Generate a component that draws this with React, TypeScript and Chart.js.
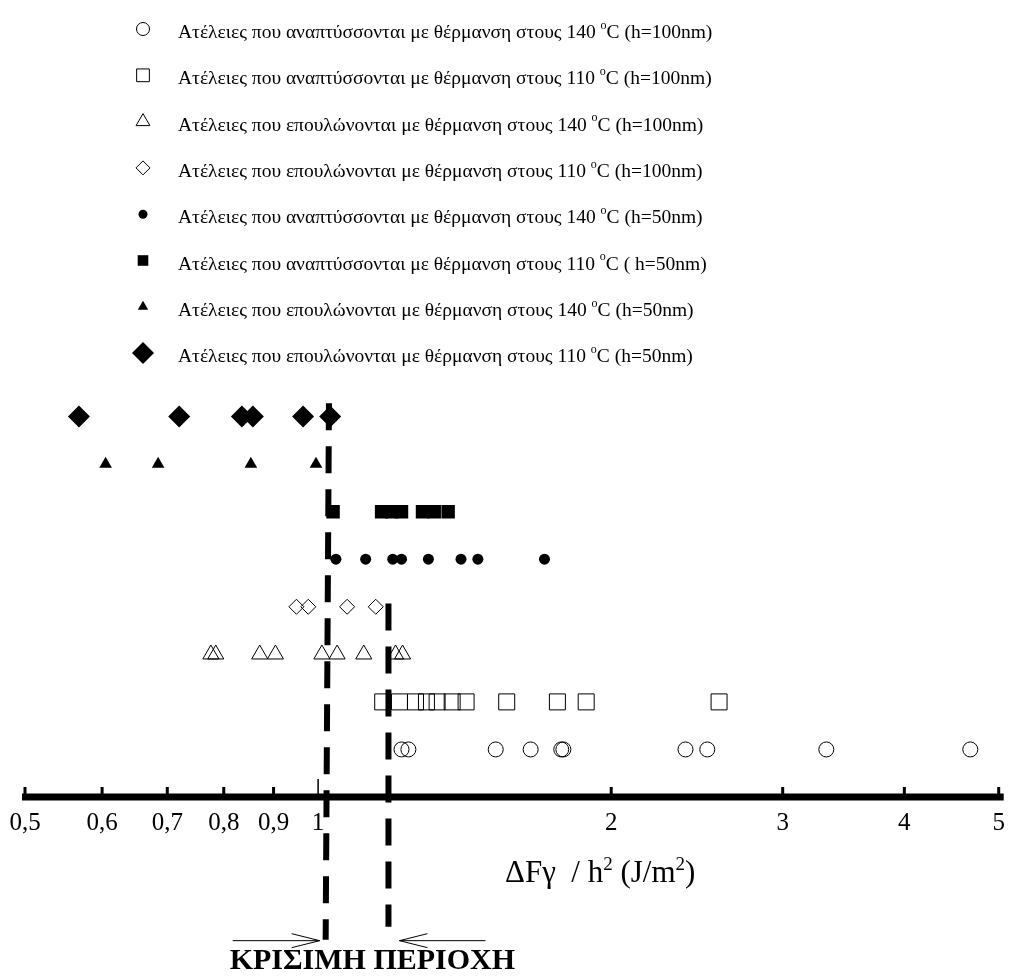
import React, { useEffect, useRef } from 'react';
import { Chart, registerables } from 'chart.js';
import { drawPoint } from 'chart.js/helpers';

Chart.register(...registerables);

// ---------- data ----------
const SERIES_LABELS = [
  'Ατέλειες που αναπτύσσονται με θέρμανση στους 140 °C (h=100nm)',
  'Ατέλειες που αναπτύσσονται με θέρμανση στους 110 °C (h=100nm)',
  'Ατέλειες που επουλώνονται με θέρμανση στους 140 °C (h=100nm)',
  'Ατέλειες που επουλώνονται με θέρμανση στους 110 °C (h=100nm)',
  'Ατέλειες που αναπτύσσονται με θέρμανση στους 140 °C (h=50nm)',
  'Ατέλειες που αναπτύσσονται με θέρμανση στους 110 °C ( h=50nm)',
  'Ατέλειες που επουλώνονται με θέρμανση στους 140 °C (h=50nm)',
  'Ατέλειες που επουλώνονται με θέρμανση στους 110 °C (h=50nm)',
];
const SERIES_ROWS = [1, 2, 3, 4, 5, 6, 7, 8];

const X_OPEN_CIRCLE = [1.218, 1.238, 1.522, 1.653, 1.777, 1.786, 2.384, 2.51, 3.326, 4.675];
const X_OPEN_SQUARE = [1.165, 1.212, 1.259, 1.292, 1.325, 1.373, 1.419, 1.562, 1.761, 1.885, 2.581];
const X_OPEN_TRIANGLE = [0.776, 0.785, 0.871, 0.904, 1.009, 1.046, 1.114, 1.201, 1.221];
const X_OPEN_DIAMOND = [0.95, 0.977, 1.071, 1.146];
const X_FILLED_DOT = [1.043, 1.119, 1.193, 1.218, 1.298, 1.402, 1.459, 1.708];
const X_FILLED_SQUARE = [1.036, 1.162, 1.19, 1.218, 1.28, 1.316, 1.36];
const X_FILLED_TRIANGLE = [0.605, 0.685, 0.853, 0.995];
const X_FILLED_DIAMOND = [0.568, 0.72, 0.835, 0.857, 0.965, 1.029];

const SERIES_X = [
  X_OPEN_CIRCLE, X_OPEN_SQUARE, X_OPEN_TRIANGLE, X_OPEN_DIAMOND,
  X_FILLED_DOT, X_FILLED_SQUARE, X_FILLED_TRIANGLE, X_FILLED_DIAMOND,
];

const X_TICKS = [0.5, 0.6, 0.7, 0.8, 0.9, 1, 2, 3, 4, 5];

// critical region boundaries (x at top, x at bottom) and vertical extent (rows)
const CRIT_LOW_X = [1.026, 1.018];
const CRIT_LOW_Y = [8.28, -3.0];
const CRIT_HIGH_X = [1.181, 1.181];
const CRIT_HIGH_Y = [4.07, -2.73];

const AXIS_TITLE = [
  { t: 'ΔFγ  / h' }, { t: '2', sup: true }, { t: ' (J/m' }, { t: '2', sup: true }, { t: ')' },
];
const REGION_LABEL = 'ΚΡΙΣΙΜΗ ΠΕΡΙΟΧΗ';

// ---------- styles ----------
const SERIF = '"Liberation Serif", "Times New Roman", serif';
const MARKERS = [
  { style: 'circle', r: 7.5, lr: 6.5, fill: false },
  { style: 'rect', r: 11.3, lr: 9, fill: false },
  { style: 'triangle', r: 9.3, lr: 8, fill: false },
  { style: 'rectRot', r: 7.5, lr: 7, fill: false },
  { style: 'circle', r: 5.5, lr: 4.5, fill: true },
  { style: 'rect', r: 9.5, lr: 7.5, fill: true },
  { style: 'triangle', r: 7.3, lr: 6, fill: true },
  { style: 'rectRot', r: 11, lr: 11, fill: true },
];

function drawRich(ctx: CanvasRenderingContext2D, parts: any[], x: number, y: number, size: number, bold = false) {
  let cx = x;
  for (const p of parts) {
    const fs = p.sup ? Math.round(size * 0.62) : size;
    ctx.font = `${bold ? 'bold ' : ''}${fs}px ${SERIF}`;
    ctx.fillText(p.t, cx, p.sup ? y - size * 0.38 : y);
    cx += ctx.measureText(p.t).width;
  }
}

const overlayPlugin = {
  id: 'overlay',
  afterDatasetsDraw(chart: any) {
    const ctx: CanvasRenderingContext2D = chart.ctx;
    const xs = chart.scales.x;
    const ys = chart.scales.y;
    const y0 = ys.getPixelForValue(0);
    const px = (v: number) => xs.getPixelForValue(v);
    ctx.save();
    ctx.fillStyle = '#000';
    ctx.strokeStyle = '#000';

    // axis line
    const xl = px(X_TICKS[0]);
    const xr = px(X_TICKS[X_TICKS.length - 1]);
    ctx.fillRect(xl - 3, y0 - 3.5, xr - xl + 8, 7);
    // tick marks (inside)
    X_TICKS.forEach((v) => {
      const p = px(v);
      if (v === 1) ctx.fillRect(p - 0.75, y0 - 18, 1.5, 18);
      else ctx.fillRect(p - 1.5, y0 - 10, 3, 7);
    });

    // dashed critical lines
    ctx.lineWidth = 6;
    ctx.setLineDash([27, 16]);
    ctx.lineCap = 'butt';
    const dl = (xv: number[], yv: number[]) => {
      ctx.beginPath();
      ctx.moveTo(px(xv[0]), ys.getPixelForValue(yv[0]));
      ctx.lineTo(px(xv[1]), ys.getPixelForValue(yv[1]));
      ctx.stroke();
    };
    dl(CRIT_LOW_X, CRIT_LOW_Y);
    dl(CRIT_HIGH_X, CRIT_HIGH_Y);
    ctx.setLineDash([]);

    // arrows
    const ay = ys.getPixelForValue(CRIT_LOW_Y[1]) + 1;
    const tip1 = px(CRIT_LOW_X[1]) - 6;
    const tip2 = px(CRIT_HIGH_X[1]) + 11;
    ctx.lineWidth = 1;
    ctx.beginPath();
    ctx.moveTo(tip1 - 87, ay); ctx.lineTo(tip1, ay);
    ctx.moveTo(tip1 - 28, ay - 7); ctx.lineTo(tip1, ay); ctx.lineTo(tip1 - 28, ay + 7);
    ctx.moveTo(tip2 + 86, ay); ctx.lineTo(tip2, ay);
    ctx.moveTo(tip2 + 28, ay - 7); ctx.lineTo(tip2, ay); ctx.lineTo(tip2 + 28, ay + 7);
    ctx.stroke();

    // region label
    ctx.textBaseline = 'alphabetic';
    ctx.textAlign = 'left';
    ctx.font = `bold 30px ${SERIF}`;
    ctx.fillText(REGION_LABEL, tip1 - 90, ay + 28);

    // axis title
    drawRich(ctx, AXIS_TITLE, 497, y0 + 85, 31);

    // legend
    chart.data.datasets.forEach((ds: any, i: number) => {
      const m = MARKERS[i];
      const ry = 25 + 46.3 * i;
      ctx.fillStyle = m.fill ? '#000' : 'rgba(0,0,0,0)';
      ctx.strokeStyle = '#000';
      ctx.lineWidth = 1;
      drawPoint(ctx, { pointStyle: m.style, radius: m.lr, rotation: 0, borderWidth: m.fill ? 0 : 1 } as any, 135, ry - 4);
      ctx.fillStyle = '#000';
      ctx.textBaseline = 'middle';
      const [before, after] = String(ds.label).split('°');
      drawRich(ctx, [{ t: before }, { t: 'o', sup: true }, { t: after }], 170, ry, 19.5);
    });
    ctx.restore();
  },
};

export default function App() {
  const ref = useRef<HTMLCanvasElement | null>(null);
  useEffect(() => {
    if (!ref.current) return;
    const datasets = SERIES_X.map((xsArr, i) => {
      const m = MARKERS[i];
      return {
        label: SERIES_LABELS[i],
        data: xsArr.map((x) => ({ x, y: SERIES_ROWS[i] })),
        showLine: false,
        pointStyle: m.style,
        pointRadius: m.r,
        pointHoverRadius: m.r,
        pointBorderWidth: m.fill ? 0 : 1,
        pointBorderColor: '#000',
        pointBackgroundColor: m.fill ? '#000' : 'rgba(0,0,0,0)',
      };
    });
    const chart = new Chart(ref.current, {
      type: 'scatter',
      data: { datasets } as any,
      options: {
        animation: false,
        responsive: false,
        maintainAspectRatio: false,
        layout: { padding: { left: 17, right: 5, top: 361, bottom: 120 } },
        plugins: { legend: { display: false }, tooltip: { enabled: false } },
        scales: {
          x: {
            type: 'logarithmic',
            min: 0.5,
            max: 5,
            afterBuildTicks: (s: any) => {
              s.ticks = X_TICKS.map((v) => ({ value: v }));
            },
            afterFit: (s: any) => {
              s.paddingLeft = 0;
              s.paddingRight = 0;
              s.height = 60;
            },
            ticks: {
              autoSkip: false,
              maxRotation: 0,
              color: '#000',
              padding: 11,
              font: { family: SERIF, size: 25 },
              callback: (v: any) => String(v).replace('.', ','),
            },
            grid: { display: false, drawTicks: false },
            border: { display: false },
          },
          y: { display: false, min: 0, max: 9 },
        },
      } as any,
      plugins: [overlayPlugin],
    });
    return () => chart.destroy();
  }, []);
  return (
    <div style={{ position: 'relative', width: 1003, height: 969, marginBottom: -8 }}>
      <canvas ref={ref} width={1003} height={969} style={{ display: 'block' }} />
    </div>
  );
}
